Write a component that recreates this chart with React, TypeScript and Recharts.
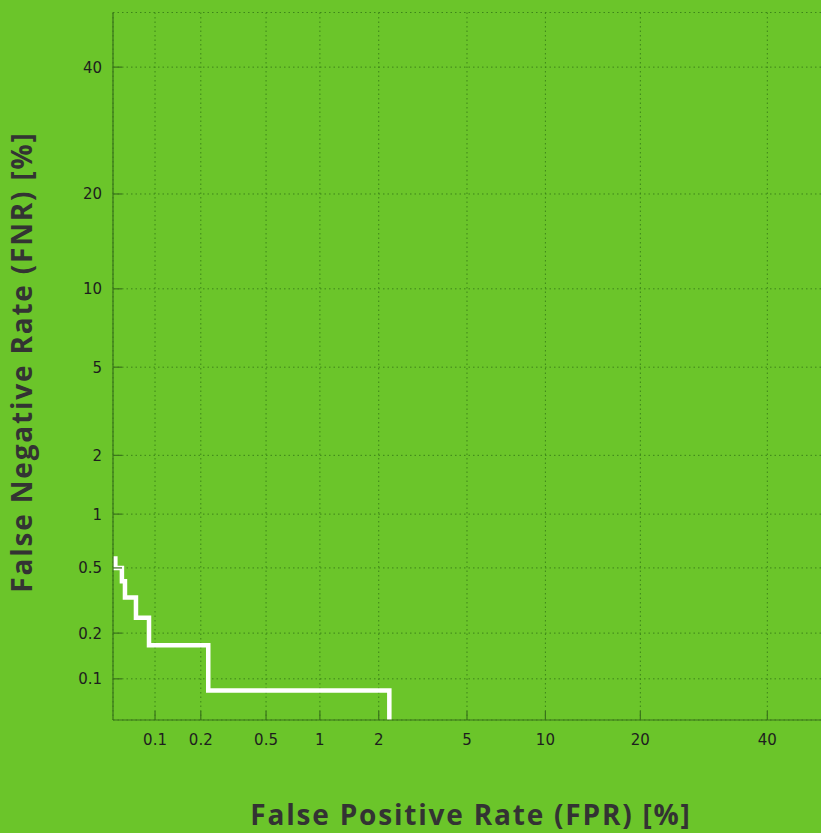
import React from 'react';
import { LineChart, Line, XAxis, YAxis, CartesianGrid } from 'recharts';

// DET curve operating points (percent)
const fprPct = [0.053, 0.059, 0.062, 0.074, 0.091, 0.223, 2.25, 2.25];
const fnrPct = [0.583, 0.5, 0.417, 0.333, 0.25, 0.167, 0.0833, 0.0517];

const xTickLabels = ['0.1', '0.2', '0.5', '1', '2', '5', '10', '20', '40'];
const yTickLabels = ['0.1', '0.2', '0.5', '1', '2', '5', '10', '20', '40'];

const xRangePct = [0.051, 50];
const yRangePct = [0.0517, 50];

// inverse standard normal CDF (Acklam)
function probit(p: number): number {
  const a = [-3.969683028665376e1, 2.209460984245205e2, -2.759285104469687e2, 1.38357751867269e2, -3.066479806614716e1, 2.506628277459239];
  const b = [-5.447609879822406e1, 1.615858368580409e2, -1.556989798598866e2, 6.680131188771972e1, -1.328068155288572e1];
  const c = [-7.784894002430293e-3, -3.223964580411365e-1, -2.400758277161838, -2.549732539343734, 4.374664141464968, 2.938163982698783];
  const d = [7.784695709041462e-3, 3.224671290700398e-1, 2.445134137142996, 3.754408661907416];
  const pl = 0.02425;
  if (p <= 0) return -10;
  if (p >= 1) return 10;
  if (p < pl) {
    const q = Math.sqrt(-2 * Math.log(p));
    return (((((c[0] * q + c[1]) * q + c[2]) * q + c[3]) * q + c[4]) * q + c[5]) / ((((d[0] * q + d[1]) * q + d[2]) * q + d[3]) * q + 1);
  }
  if (p <= 1 - pl) {
    const q = p - 0.5;
    const r = q * q;
    return ((((((a[0] * r + a[1]) * r + a[2]) * r + a[3]) * r + a[4]) * r + a[5]) * q) / (((((b[0] * r + b[1]) * r + b[2]) * r + b[3]) * r + b[4]) * r + 1);
  }
  const q = Math.sqrt(-2 * Math.log(1 - p));
  return -(((((c[0] * q + c[1]) * q + c[2]) * q + c[3]) * q + c[4]) * q + c[5]) / ((((d[0] * q + d[1]) * q + d[2]) * q + d[3]) * q + 1);
}

const pz = (pct: number) => probit(pct / 100);

const data = fprPct.map((f, i) => ({ x: pz(f), y: pz(fnrPct[i]) }));
const xTicks = xTickLabels.map((l) => pz(parseFloat(l)));
const yTicks = yTickLabels.map((l) => pz(parseFloat(l)));
const xDomain = [pz(xRangePct[0]), pz(xRangePct[1])];
const yDomain = [pz(yRangePct[0]), pz(yRangePct[1])];

const BG = '#6bc52a';
const FRAME = '#3a741b';
const GRID = '#3d8519';
const TEXT = '#1e1e1e';
const TL = 9;

const labelFor = (v: number, ticks: number[], labels: string[]) => {
  let best = 0;
  ticks.forEach((t, i) => {
    if (Math.abs(t - v) < Math.abs(ticks[best] - v)) best = i;
  });
  return labels[best];
};

const BottomTick = (props: any) => {
  const { x, y, payload } = props;
  return (
    <g>
      <line x1={x} y1={y} x2={x} y2={y - TL} stroke={FRAME} strokeWidth={1.2} />
      <text x={x} y={y + 25} textAnchor="middle" fontSize={15} fill={TEXT} fontFamily="DejaVu Sans">
        {labelFor(payload.value, xTicks, xTickLabels)}
      </text>
    </g>
  );
};
const TopTick = (props: any) => {
  const { x, y } = props;
  return <line x1={x} y1={y} x2={x} y2={y + TL} stroke={FRAME} strokeWidth={1.2} />;
};
const LeftTick = (props: any) => {
  const { x, y, payload } = props;
  return (
    <g>
      <line x1={x} y1={y} x2={x + TL} y2={y} stroke={FRAME} strokeWidth={1.2} />
      <text x={x - 11} y={y + 5.5} textAnchor="end" fontSize={15} fill={TEXT} fontFamily="DejaVu Sans">
        {labelFor(payload.value, yTicks, yTickLabels)}
      </text>
    </g>
  );
};
const RightTick = (props: any) => {
  const { x, y } = props;
  return <line x1={x} y1={y} x2={x - TL} y2={y} stroke={FRAME} strokeWidth={1.2} />;
};

export default function App() {
  return (
    <div style={{ position: 'absolute', left: 0, top: 0, width: 821, height: 833, background: BG, overflow: 'hidden' }}>
      <LineChart width={822} height={833} data={data} margin={{ top: 12.5, right: 0, bottom: 0, left: 0 }}>
        <CartesianGrid stroke={GRID} strokeDasharray="1.5 3" strokeWidth={1} />
        <XAxis
          dataKey="x"
          type="number"
          domain={xDomain}
          ticks={xTicks}
          height={113}
          tickSize={0}
          tickMargin={0}
          tickLine={false}
          axisLine={{ stroke: FRAME, strokeWidth: 1.2 }}
          tick={<BottomTick />}
          interval={0}
        />
        <XAxis
          xAxisId="top"
          orientation="top"
          type="number"
          domain={xDomain}
          ticks={xTicks}
          height={0}
          tickSize={0}
          tickMargin={0}
          tickLine={false}
          axisLine={{ stroke: FRAME, strokeWidth: 1.2 }}
          tick={<TopTick />}
          interval={0}
          allowDataOverflow
        />
        <YAxis
          type="number"
          domain={yDomain}
          ticks={yTicks}
          width={113}
          tickSize={0}
          tickMargin={0}
          tickLine={false}
          axisLine={{ stroke: FRAME, strokeWidth: 1.2 }}
          tick={<LeftTick />}
          interval={0}
        />
        <YAxis
          yAxisId="right"
          orientation="right"
          type="number"
          domain={yDomain}
          ticks={yTicks}
          width={0}
          tickSize={0}
          tickMargin={0}
          tickLine={false}
          axisLine={{ stroke: FRAME, strokeWidth: 1.2 }}
          tick={<RightTick />}
          interval={0}
          allowDataOverflow
        />
        <Line
          dataKey="y"
          type="stepBefore"
          stroke="#ffffff"
          strokeWidth={4.5}
          dot={false}
          isAnimationActive={false}
        />
        <text
          x={471}
          y={825}
          textAnchor="middle"
          fontSize={28}
          fontWeight={700}
          letterSpacing={1.8}
          fill="#333"
          fontFamily="Open Sans"
        >
          False Positive Rate (FPR) [%]
        </text>
        <text
          x={32}
          y={362}
          textAnchor="middle"
          fontSize={28}
          fontWeight={700}
          letterSpacing={1.8}
          fill="#333"
          fontFamily="Open Sans"
          transform="rotate(-90 32 362)"
        >
          False Negative Rate (FNR) [%]
        </text>
      </LineChart>
    </div>
  );
}
